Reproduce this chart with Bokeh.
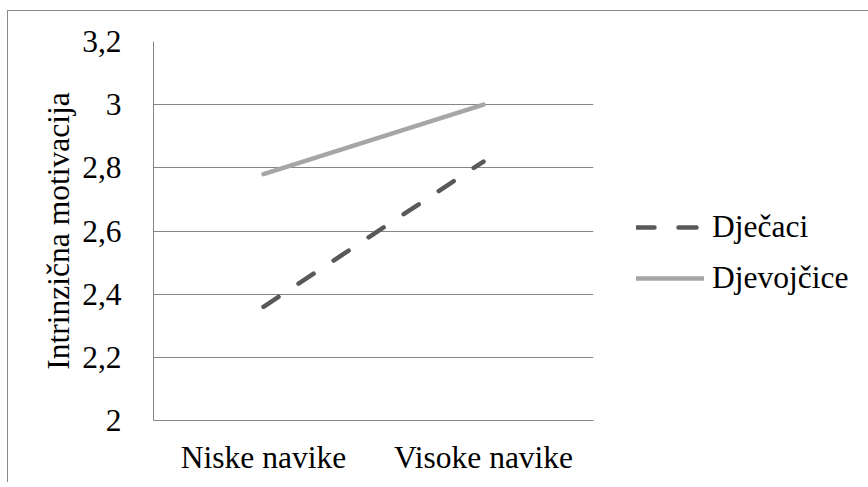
from bokeh.plotting import figure
from bokeh.models import FactorRange, Range1d, FixedTicker, Legend, LegendItem
from bokeh.embed import file_html
from bokeh.resources import INLINE

categories = ["Niske navike", "Visoke navike"]
djecaci = [2.36, 2.82]
djevojcice = [2.78, 3.0]
y_ticks = [2.0, 2.2, 2.4, 2.6, 2.8, 3.0, 3.2]
y_tick_labels = ["2", "2,2", "2,4", "2,6", "2,8", "3", "3,2"]

FONT = "Liberation Serif"
FSIZE = "31.5px"
GRID = "#868686"

p = figure(
    frame_width=440, frame_height=379,
    x_range=FactorRange(*categories, range_padding=0),
    y_range=Range1d(2.0, 3.2),
    output_backend="svg", toolbar_location=None,
    min_border_left=145, min_border_right=267, min_border_top=30, min_border_bottom=62,
)
p.styles = {"margin-top": "10px", "margin-left": "7px",
            "border-top": "1px solid #8a8a8a", "border-left": "1px solid #8a8a8a"}
p.outline_line_color = None
p.background_fill_color = "white"
p.border_fill_color = "white"

p.xgrid.grid_line_color = None
p.ygrid.grid_line_color = GRID
p.ygrid.grid_line_width = 1
p.ygrid.ticker = FixedTicker(ticks=y_ticks)

p.yaxis.ticker = FixedTicker(ticks=y_ticks)
p.yaxis.major_label_overrides = {t: l for t, l in zip(y_ticks, y_tick_labels)}
for ax in (p.xaxis[0], p.yaxis[0]):
    ax.axis_line_color = GRID
    ax.axis_line_width = 1
    ax.major_tick_line_color = None
    ax.minor_tick_line_color = None
    ax.major_label_text_font = FONT
    ax.major_label_text_font_size = FSIZE
    ax.major_label_text_color = "black"
p.yaxis.major_label_standoff = 26
p.xaxis.major_label_standoff = 13
p.yaxis.axis_label = "Intrinzična motivacija"
p.yaxis.axis_label_text_font = FONT
p.yaxis.axis_label_text_font_size = FSIZE
p.yaxis.axis_label_text_font_style = "normal"
p.yaxis.axis_label_text_color = "black"
p.yaxis.axis_label_standoff = 3

r1 = p.line(categories, djecaci, line_color="#595959", line_width=4.5,
            line_dash="18 24", line_cap="round")
r2 = p.line(categories, djevojcice, line_color="#a6a6a6", line_width=4.5,
            line_cap="round")

legend = Legend(items=[LegendItem(label="Dječaci", renderers=[r1]),
                       LegendItem(label="Djevojčice", renderers=[r2])],
                location=(43, 124))
legend.border_line_color = None
legend.background_fill_alpha = 0
legend.padding = 0
legend.margin = 0
legend.spacing = 15
legend.glyph_width = 68
legend.glyph_height = 30
legend.label_height = 30
legend.label_standoff = 8
legend.label_text_font = FONT
legend.label_text_font_size = FSIZE
legend.label_text_color = "black"
p.add_layout(legend, "right")

open("out.html", "w").write(file_html(p, INLINE))
